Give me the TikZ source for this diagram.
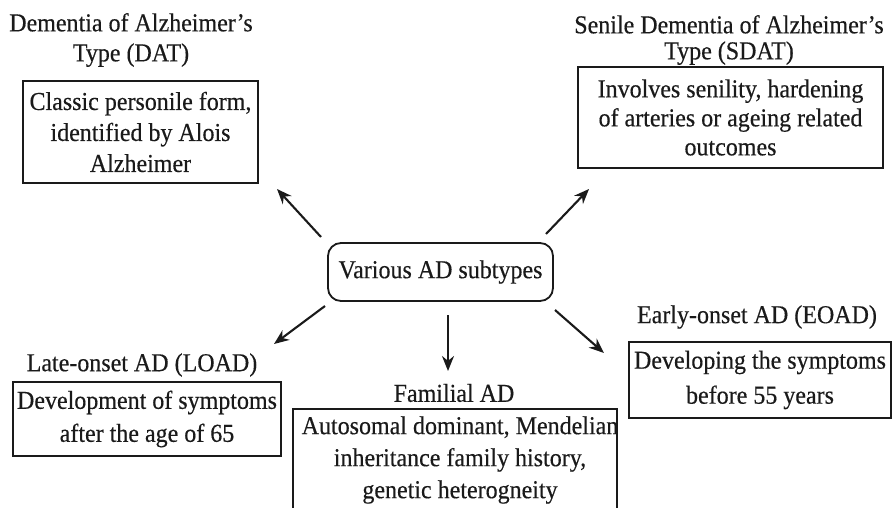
\documentclass[tikz,border=0pt]{standalone}
\usepackage{fontspec}
\setmainfont[FakeStretch=0.93,FakeBold=0.4]{Liberation Serif}
\usetikzlibrary{arrows.meta}
\definecolor{ink}{HTML}{1A1A1A}
\begin{document}
\begin{tikzpicture}[x=1pt,y=-1pt,
  txt/.style={font=\fontsize{25.8}{30}\selectfont, text=ink, align=center, inner sep=0pt},
  boxd/.style={draw=ink, line width=1.8pt, inner sep=0pt, font=\fontsize{25.8}{31}\selectfont, text=ink, align=center},
  arr/.style={draw=ink, line width=2.1pt, -{Stealth[length=15pt,width=12pt]}}]
\useasboundingbox (0,0) rectangle (893,507);
\clip (0,0) rectangle (893,507);

% center
\node[boxd, rounded corners=13pt, minimum width=225pt, minimum height=58pt] (c) at (440.5,272) {Various AD subtypes};

% DAT
\node[txt] (datT) at (131,40) {Dementia of Alzheimer's\\Type (DAT)};
\node[boxd, minimum width=235pt, minimum height=102pt] (datB) at (140.5,132) {Classic personile form,\\identified by Alois\\Alzheimer};

% SDAT
\node[txt, font=\fontsize{25.8}{26}\selectfont] (sdatT) at (729,40) {Senile Dementia of Alzheimer's\\Type (SDAT)};
\node[boxd, font=\fontsize{25.8}{29}\selectfont, minimum width=305pt, minimum height=101pt] (sdatB) at (730.5,117.5) {Involves senility, hardening\\of arteries or ageing related\\outcomes};

% LOAD
\node[txt] (loadT) at (142,365) {Late-onset AD (LOAD)};
\node[boxd, font=\fontsize{25.8}{33}\selectfont, minimum width=268pt, minimum height=74pt] (loadB) at (147,419) {Development of symptoms\\after the age of 65};

% Familial
\node[txt] (famT) at (454,393) {Familial AD};
\node[draw=ink, line width=1.8pt, minimum width=324pt, minimum height=140pt, inner sep=0pt] (famB) at (455,479) {};
\node[txt, font=\fontsize{25.8}{32}\selectfont] (famX) at (460,460) {Autosomal dominant, Mendelian\\inheritance family history,\\genetic heterogneity};

% EOAD
\node[txt] (eoadT) at (757,317) {Early-onset AD (EOAD)};
\node[boxd, font=\fontsize{25.8}{35}\selectfont, minimum width=262pt, minimum height=76pt] (eoadB) at (760,380) {Developing the symptoms\\before 55 years};

% arrow coordinates
\coordinate (s1) at (321,237); \coordinate (e1) at (277,189);
\coordinate (s2) at (546,234); \coordinate (e2) at (589,189);
\coordinate (s3) at (325,306); \coordinate (e3) at (274,344);
\coordinate (s4) at (448,315); \coordinate (e4) at (448,371);
\coordinate (s5) at (555,310); \coordinate (e5) at (604,353);
\draw[arr] (s1) -- (e1);
\draw[arr] (s2) -- (e2);
\draw[arr] (s3) -- (e3);
\draw[arr] (s4) -- (e4);
\draw[arr] (s5) -- (e5);
\end{tikzpicture}
\end{document}
